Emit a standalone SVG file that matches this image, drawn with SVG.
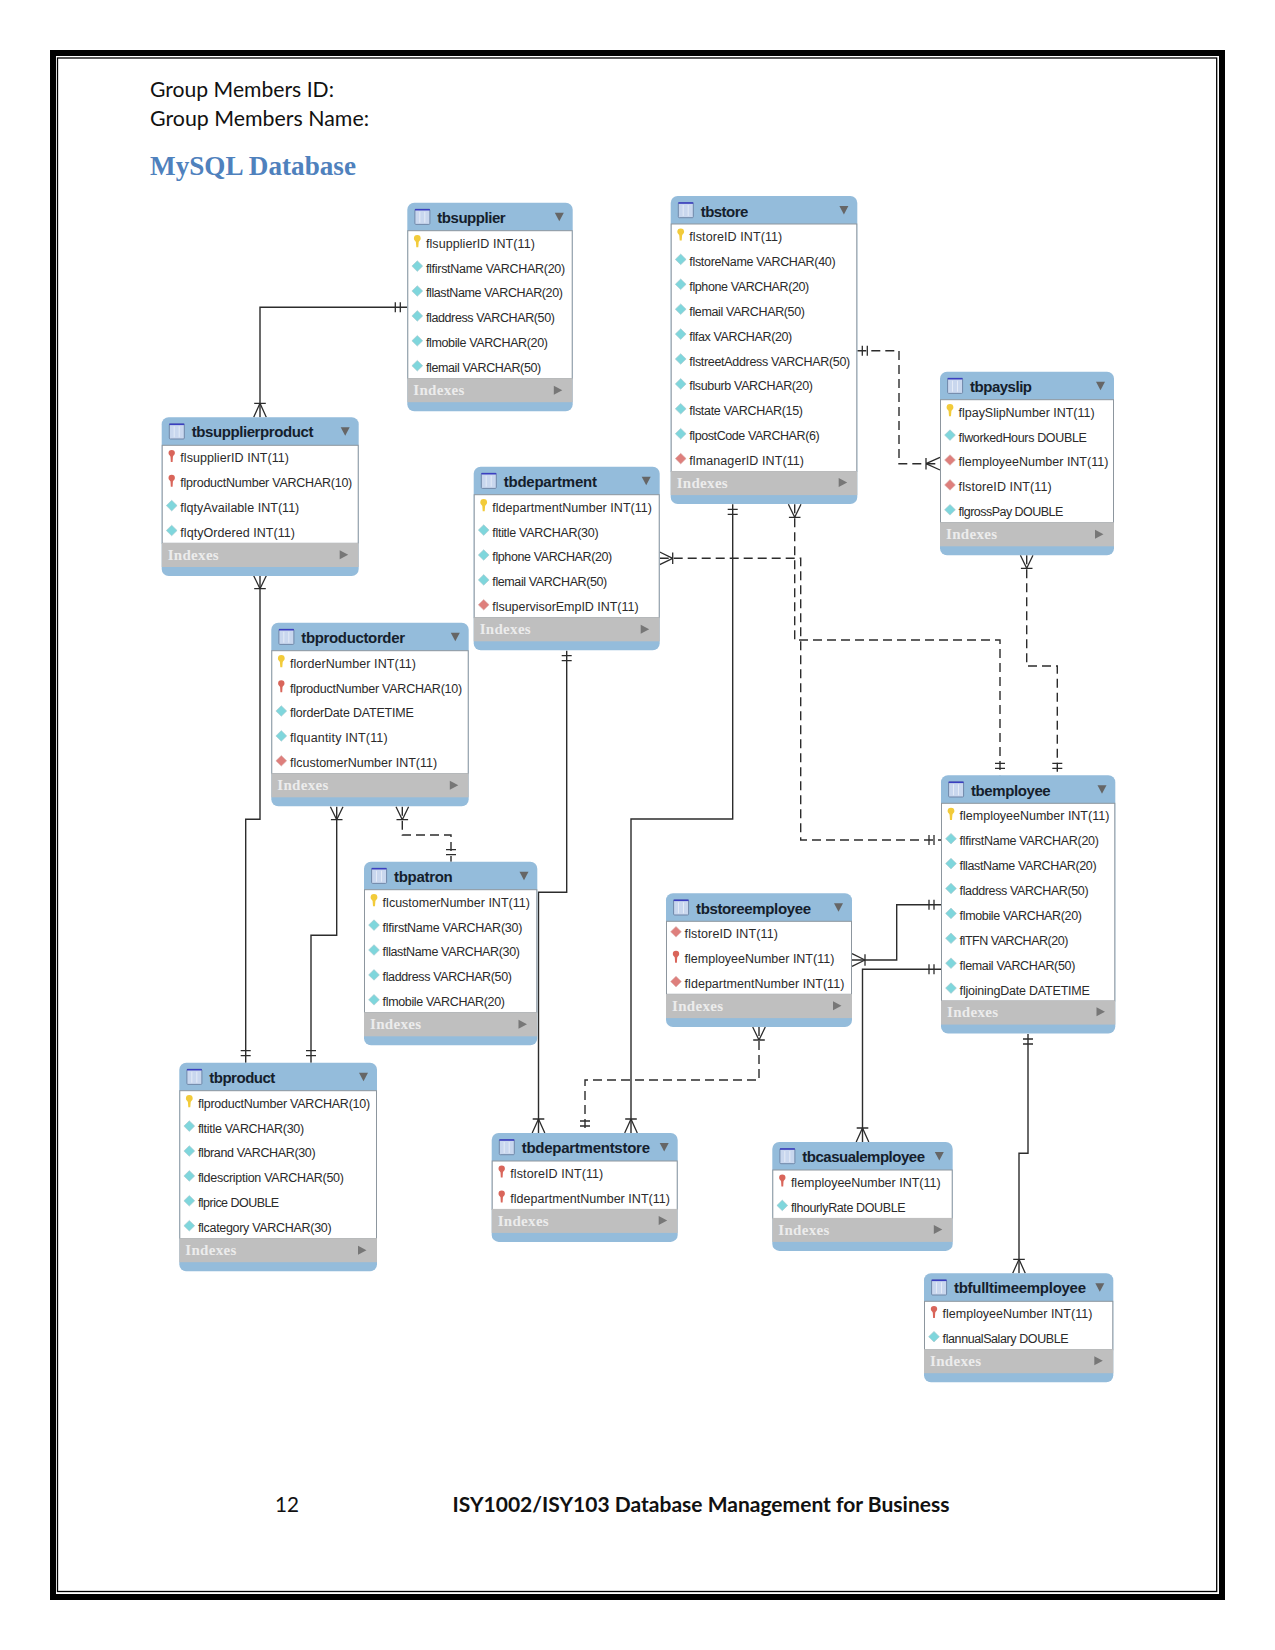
<svg xmlns="http://www.w3.org/2000/svg" width="1275" height="1650" viewBox="0 0 1275 1650">
<style>
.doc{font-family:"Lato","Liberation Sans",sans-serif;font-size:21px;fill:#111}
.h1{font-family:"Liberation Serif",serif;font-size:28px;font-weight:bold;fill:#4f81bd}
.t{font-family:"Liberation Sans",sans-serif;font-size:15px;font-weight:bold;fill:#14202c}
.r{font-family:"Liberation Sans",sans-serif;font-size:12.5px;fill:#2a2a2a;transform:translateY(.5px)}
.i{font-family:"Liberation Serif",serif;font-size:15px;font-weight:bold;fill:#ececec;transform:translateY(.5px)}
.b{fill:#94bcdb}
.w{fill:#fff;stroke:#8d969e;stroke-width:1}
.g{fill:#bfbfbf}
.c{fill:none;stroke:#2c2c2c;stroke-width:1.4}
.m1{marker-start:url(#oneB);marker-end:url(#many)}
.m2{marker-start:url(#manyB);marker-end:url(#one)}
.m3{marker-start:url(#one);marker-end:url(#many)}
.d{stroke-dasharray:9 5}
</style>
<defs>
<marker id="one" markerUnits="userSpaceOnUse" markerWidth="20" markerHeight="20" refX="19" refY="10" orient="auto-start-reverse"><path d="M7 5V15M12 5V15" fill="none" stroke="#2c2c2c" stroke-width="1.3"/></marker>
<marker id="oneB" markerUnits="userSpaceOnUse" markerWidth="20" markerHeight="20" refX="15" refY="10" orient="auto-start-reverse"><path d="M5 5V15M10 5V15" fill="none" stroke="#2c2c2c" stroke-width="1.3"/></marker>
<marker id="many" markerUnits="userSpaceOnUse" markerWidth="20" markerHeight="20" refX="16" refY="10" orient="auto-start-reverse"><path d="M2 4.2V15.8M2 10L16 3.7M2 10L16 16.3" fill="none" stroke="#2c2c2c" stroke-width="1.3"/></marker>
<marker id="manyB" markerUnits="userSpaceOnUse" markerWidth="20" markerHeight="20" refX="16" refY="10" orient="auto-start-reverse"><path d="M3 4.2V15.8M3 10L16 3.7M3 10L16 16.3" fill="none" stroke="#2c2c2c" stroke-width="1.3"/></marker>
<g id="tbl"><rect x="7.6" y="6.7" width="15" height="15" rx="1" fill="#c9d7ee" stroke="#6f87a8"/><path d="M7.6 7H22.6" stroke="#3a3fc0" stroke-width="1.6"/><path d="M12.5 9V20M17.5 9V20" stroke="#e4ebf7" stroke-width="1"/></g>
<path id="k" d="M-3.4 -4.2A3.4 3.4 0 0 1 3.4 -4.2C3.4 -2.4 1.8 -1.6 1.4 -0.6L1 4.6L-1 4.6L-1.4 -0.6C-1.8 -1.6 -3.4 -2.4 -3.4 -4.2Z" fill="#f2cb3a"/>
<path id="q" d="M-3.2 -4.2A3.2 3.2 0 0 1 3.2 -4.2C3.2 -2.4 1.6 -1.6 1.2 -0.6L.9 4.6L-.9 4.6L-1.2 -0.6C-1.6 -1.6 -3.2 -2.4 -3.2 -4.2Z" fill="#d9655a"/>
<path id="e" d="M0 -6.8L5.4 -1.5L0 3.8L-5.4 -1.5Z" fill="#7fd6dc" stroke="#a8c8cc" stroke-width=".6"/>
<path id="f" d="M0 -6.8L5.4 -1.5L0 3.8L-5.4 -1.5Z" fill="#de7f7c" stroke="#d8b0ae" stroke-width=".6"/>
<path id="dn" d="M0 0H9L4.5 8.5Z" fill="#666"/>
<path id="rt" d="M0 0L8.5 4.5L0 9Z" fill="#777"/>
</defs>
<rect width="1275" height="1650" fill="#fff"/>
<rect x="53" y="53" width="1169" height="1544" fill="none" stroke="#000" stroke-width="6"/>
<rect x="57.5" y="58" width="1159.2" height="1533.5" fill="none" stroke="#000" stroke-width="1.3"/>
<text class="doc" x="150" y="97" textLength="184" lengthAdjust="spacingAndGlyphs">Group Members ID:</text>
<text class="doc" x="150" y="125.7" textLength="219" lengthAdjust="spacingAndGlyphs">Group Members Name:</text>
<text class="h1" x="150" y="175" textLength="206" lengthAdjust="spacingAndGlyphs">MySQL Database</text>
<text class="doc" x="275" y="1512" textLength="24" lengthAdjust="spacingAndGlyphs">12</text>
<text class="doc" x="452.5" y="1512" textLength="497" lengthAdjust="spacingAndGlyphs" font-weight="bold">ISY1002/ISY103 Database Management for Business</text>

<g id="connectors">
<path class="c m3" d="M407.3 307.3H260V417.3"/>
<path class="c m2" d="M260 575.7V819.3H245.7V1062.7"/>
<path class="c m2" d="M336.7 806.7V935.3H311V1062.7"/>
<path class="c m2 d" d="M402.3 806.7V835H451V861.7"/>
<path class="c m1" d="M566.7 650.7V892.3H538.5V1133"/>
<path class="c m1" d="M732.7 504.3V819H631V1133"/>
<path class="c m2 d" d="M759 1027V1080H585V1133"/>
<path class="c m1 d" d="M857.3 350.7H899V463.7H940"/>
<path class="c m2 d" d="M1026.7 555.3V666H1057.3V775.3"/>
<path class="c m2 d" d="M794.7 504.3V640H1000V775.3"/>
<path class="c m2 d" d="M659.7 558.3H800.7V840H941"/>
<path class="c m2" d="M852 960H896.7V904.7H941"/>
<path class="c m3" d="M941 969.3H862.5V1142"/>
<path class="c m1" d="M1028 1034V1153.3H1019V1273.3"/>
</g>

<g id="tbsupplier" transform="translate(407.3 202.7)">
<rect class="b" width="165.4" height="208.5" rx="7"/><rect class="w" x=".5" y="28" width="164.4" height="148"/><rect class="g" y="175.5" width="165.4" height="24"/>
<use href="#tbl"/><text class="t" x="30" y="20.7" textLength="68.3">tbsupplier</text><use href="#dn" x="147.5" y="10"/>
<use href="#k" x="10" y="40"/><text class="r" x="18.6" y="44.5" textLength="109">flsupplierID INT(11)</text>
<use href="#e" x="10" y="64.9"/><text class="r" x="18.6" y="69.4" textLength="139.3">flfirstName VARCHAR(20)</text>
<use href="#e" x="10" y="89.8"/><text class="r" x="18.6" y="94.3" textLength="137">fllastName VARCHAR(20)</text>
<use href="#e" x="10" y="114.7"/><text class="r" x="18.6" y="119.2" textLength="129">fladdress VARCHAR(50)</text>
<use href="#e" x="10" y="139.6"/><text class="r" x="18.6" y="144.1" textLength="122">flmobile VARCHAR(20)</text>
<use href="#e" x="10" y="164.5"/><text class="r" x="18.6" y="169" textLength="115.3">flemail VARCHAR(50)</text>
<text class="i" x="6" y="192" textLength="51">Indexes</text><use href="#rt" x="146.5" y="183"/>
</g>

<g id="tbsupplierproduct" transform="translate(161.7 417.3)">
<rect class="b" width="197" height="158.7" rx="7"/><rect class="w" x=".5" y="28" width="196" height="98"/><rect class="g" y="125.7" width="197" height="24"/>
<use href="#tbl"/><text class="t" x="30" y="20.2" textLength="121.7">tbsupplierproduct</text><use href="#dn" x="179" y="10"/>
<use href="#q" x="10" y="40"/><text class="r" x="18.6" y="44.5" textLength="108.7">flsupplierID INT(11)</text>
<use href="#q" x="10" y="64.9"/><text class="r" x="18.6" y="69.4" textLength="172">flproductNumber VARCHAR(10)</text>
<use href="#e" x="10" y="89.8"/><text class="r" x="18.6" y="94.3" textLength="119">flqtyAvailable INT(11)</text>
<use href="#e" x="10" y="114.7"/><text class="r" x="18.6" y="119.2" textLength="114.7">flqtyOrdered INT(11)</text>
<text class="i" x="6" y="142" textLength="51">Indexes</text><use href="#rt" x="178" y="133"/>
</g>

<g id="tbstore" transform="translate(670.7 196)">
<rect class="b" width="186.6" height="308.1" rx="7"/><rect class="w" x=".5" y="28" width="185.6" height="247.5"/><rect class="g" y="275.1" width="186.6" height="24"/>
<use href="#tbl"/><text class="t" x="30" y="20.7" textLength="47.7">tbstore</text><use href="#dn" x="168.7" y="10"/>
<use href="#k" x="10" y="40"/><text class="r" x="18.6" y="44.5" textLength="93">flstoreID INT(11)</text>
<use href="#e" x="10" y="64.9"/><text class="r" x="18.6" y="69.4" textLength="146.3">flstoreName VARCHAR(40)</text>
<use href="#e" x="10" y="89.8"/><text class="r" x="18.6" y="94.3" textLength="120">flphone VARCHAR(20)</text>
<use href="#e" x="10" y="114.7"/><text class="r" x="18.6" y="119.2" textLength="115.7">flemail VARCHAR(50)</text>
<use href="#e" x="10" y="139.6"/><text class="r" x="18.6" y="144.1" textLength="103">flfax VARCHAR(20)</text>
<use href="#e" x="10" y="164.5"/><text class="r" x="18.6" y="169" textLength="161">flstreetAddress VARCHAR(50)</text>
<use href="#e" x="10" y="189.4"/><text class="r" x="18.6" y="193.9" textLength="123.7">flsuburb VARCHAR(20)</text>
<use href="#e" x="10" y="214.3"/><text class="r" x="18.6" y="218.8" textLength="113.7">flstate VARCHAR(15)</text>
<use href="#e" x="10" y="239.2"/><text class="r" x="18.6" y="243.7" textLength="130.3">flpostCode VARCHAR(6)</text>
<use href="#f" x="10" y="264.1"/><text class="r" x="18.6" y="268.6" textLength="114.7">flmanagerID INT(11)</text>
<text class="i" x="6" y="291" textLength="51">Indexes</text><use href="#rt" x="168" y="282"/>
</g>

<g id="tbpayslip" transform="translate(940 371.7)">
<rect class="b" width="174" height="183.6" rx="7"/><rect class="w" x=".5" y="28" width="173" height="123"/><rect class="g" y="150.6" width="174" height="24"/>
<use href="#tbl"/><text class="t" x="30" y="20.7" textLength="62">tbpayslip</text><use href="#dn" x="156" y="10"/>
<use href="#k" x="10" y="40"/><text class="r" x="18.6" y="44.5" textLength="136">flpaySlipNumber INT(11)</text>
<use href="#e" x="10" y="64.9"/><text class="r" x="18.6" y="69.4" textLength="128.3">flworkedHours DOUBLE</text>
<use href="#f" x="10" y="89.8"/><text class="r" x="18.6" y="94.3" textLength="149.7">flemployeeNumber INT(11)</text>
<use href="#f" x="10" y="114.7"/><text class="r" x="18.6" y="119.2" textLength="93">flstoreID INT(11)</text>
<use href="#e" x="10" y="139.6"/><text class="r" x="18.6" y="144.1" textLength="104.7">flgrossPay DOUBLE</text>
<text class="i" x="6" y="167" textLength="51">Indexes</text><use href="#rt" x="155" y="158"/>
</g>

<g id="tbdepartment" transform="translate(473.7 466.7)">
<rect class="b" width="186" height="183.6" rx="7"/><rect class="w" x=".5" y="28" width="185" height="123"/><rect class="g" y="150.6" width="186" height="24"/>
<use href="#tbl"/><text class="t" x="30" y="20.7" textLength="93.3">tbdepartment</text><use href="#dn" x="168" y="10"/>
<use href="#k" x="10" y="40"/><text class="r" x="18.6" y="44.5" textLength="159.7">fldepartmentNumber INT(11)</text>
<use href="#e" x="10" y="64.9"/><text class="r" x="18.6" y="69.4" textLength="106.3">fltitle VARCHAR(30)</text>
<use href="#e" x="10" y="89.8"/><text class="r" x="18.6" y="94.3" textLength="120">flphone VARCHAR(20)</text>
<use href="#e" x="10" y="114.7"/><text class="r" x="18.6" y="119.2" textLength="115">flemail VARCHAR(50)</text>
<use href="#f" x="10" y="139.6"/><text class="r" x="18.6" y="144.1" textLength="146.3">flsupervisorEmpID INT(11)</text>
<text class="i" x="6" y="167" textLength="51">Indexes</text><use href="#rt" x="167" y="158"/>
</g>

<g id="tbproductorder" transform="translate(271.3 622.7)">
<rect class="b" width="197.4" height="183.6" rx="7"/><rect class="w" x=".5" y="28" width="196.4" height="123"/><rect class="g" y="150.6" width="197.4" height="24"/>
<use href="#tbl"/><text class="t" x="30" y="20.7" textLength="103.7">tbproductorder</text><use href="#dn" x="179.5" y="10"/>
<use href="#k" x="10" y="40"/><text class="r" x="18.6" y="44.5" textLength="126">florderNumber INT(11)</text>
<use href="#q" x="10" y="64.9"/><text class="r" x="18.6" y="69.4" textLength="172.3">flproductNumber VARCHAR(10)</text>
<use href="#e" x="10" y="89.8"/><text class="r" x="18.6" y="94.3" textLength="124">florderDate DATETIME</text>
<use href="#e" x="10" y="114.7"/><text class="r" x="18.6" y="119.2" textLength="97.7">flquantity INT(11)</text>
<use href="#f" x="10" y="139.6"/><text class="r" x="18.6" y="144.1" textLength="147.3">flcustomerNumber INT(11)</text>
<text class="i" x="6" y="167" textLength="51">Indexes</text><use href="#rt" x="178.5" y="158"/>
</g>

<g id="tbpatron" transform="translate(364 861.7)">
<rect class="b" width="173.3" height="183.6" rx="7"/><rect class="w" x=".5" y="28" width="172.3" height="123"/><rect class="g" y="150.6" width="173.3" height="24"/>
<use href="#tbl"/><text class="t" x="30" y="20.7" textLength="58.7">tbpatron</text><use href="#dn" x="155.5" y="10"/>
<use href="#k" x="10" y="40"/><text class="r" x="18.6" y="44.5" textLength="147.3">flcustomerNumber INT(11)</text>
<use href="#e" x="10" y="64.9"/><text class="r" x="18.6" y="69.4" textLength="139.7">flfirstName VARCHAR(30)</text>
<use href="#e" x="10" y="89.8"/><text class="r" x="18.6" y="94.3" textLength="137.3">fllastName VARCHAR(30)</text>
<use href="#e" x="10" y="114.7"/><text class="r" x="18.6" y="119.2" textLength="129.3">fladdress VARCHAR(50)</text>
<use href="#e" x="10" y="139.6"/><text class="r" x="18.6" y="144.1" textLength="122.3">flmobile VARCHAR(20)</text>
<text class="i" x="6" y="167" textLength="51">Indexes</text><use href="#rt" x="154.5" y="158"/>
</g>

<g id="tbemployee" transform="translate(941 775.3)">
<rect class="b" width="174.3" height="258.3" rx="7"/><rect class="w" x=".5" y="28" width="173.3" height="197.7"/><rect class="g" y="225.3" width="174.3" height="24"/>
<use href="#tbl"/><text class="t" x="30" y="20.7" textLength="79.7">tbemployee</text><use href="#dn" x="156.5" y="10"/>
<use href="#k" x="10" y="40"/><text class="r" x="18.6" y="44.5" textLength="149.7">flemployeeNumber INT(11)</text>
<use href="#e" x="10" y="64.9"/><text class="r" x="18.6" y="69.4" textLength="139.3">flfirstName VARCHAR(20)</text>
<use href="#e" x="10" y="89.8"/><text class="r" x="18.6" y="94.3" textLength="137">fllastName VARCHAR(20)</text>
<use href="#e" x="10" y="114.7"/><text class="r" x="18.6" y="119.2" textLength="129">fladdress VARCHAR(50)</text>
<use href="#e" x="10" y="139.6"/><text class="r" x="18.6" y="144.1" textLength="122.3">flmobile VARCHAR(20)</text>
<use href="#e" x="10" y="164.5"/><text class="r" x="18.6" y="169" textLength="108.7">flTFN VARCHAR(20)</text>
<use href="#e" x="10" y="189.4"/><text class="r" x="18.6" y="193.9" textLength="115.7">flemail VARCHAR(50)</text>
<use href="#e" x="10" y="214.3"/><text class="r" x="18.6" y="218.8" textLength="130.3">fljoiningDate DATETIME</text>
<text class="i" x="6" y="241.5" textLength="51">Indexes</text><use href="#rt" x="155.5" y="232"/>
</g>

<g id="tbstoreemployee" transform="translate(666 893.3)">
<rect class="b" width="186" height="133.8" rx="7"/><rect class="w" x=".5" y="28" width="185" height="73"/><rect class="g" y="100.8" width="186" height="24"/>
<use href="#tbl"/><text class="t" x="30" y="20.7" textLength="115">tbstoreemployee</text><use href="#dn" x="168" y="10"/>
<use href="#f" x="10" y="40"/><text class="r" x="18.6" y="44.5" textLength="93.3">flstoreID INT(11)</text>
<use href="#q" x="10" y="64.9"/><text class="r" x="18.6" y="69.4" textLength="149.7">flemployeeNumber INT(11)</text>
<use href="#f" x="10" y="89.8"/><text class="r" x="18.6" y="94.3" textLength="159.7">fldepartmentNumber INT(11)</text>
<text class="i" x="6" y="117" textLength="51">Indexes</text><use href="#rt" x="167" y="108"/>
</g>

<g id="tbproduct" transform="translate(179.3 1062.7)">
<rect class="b" width="197.7" height="208.5" rx="7"/><rect class="w" x=".5" y="28" width="196.7" height="148"/><rect class="g" y="175.5" width="197.7" height="24"/>
<use href="#tbl"/><text class="t" x="30" y="20.7" textLength="66">tbproduct</text><use href="#dn" x="179.7" y="10"/>
<use href="#k" x="10" y="40"/><text class="r" x="18.6" y="44.5" textLength="172.3">flproductNumber VARCHAR(10)</text>
<use href="#e" x="10" y="64.9"/><text class="r" x="18.6" y="69.4" textLength="106.3">fltitle VARCHAR(30)</text>
<use href="#e" x="10" y="89.8"/><text class="r" x="18.6" y="94.3" textLength="117.7">flbrand VARCHAR(30)</text>
<use href="#e" x="10" y="114.7"/><text class="r" x="18.6" y="119.2" textLength="146">fldescription VARCHAR(50)</text>
<use href="#e" x="10" y="139.6"/><text class="r" x="18.6" y="144.1" textLength="81.3">flprice DOUBLE</text>
<use href="#e" x="10" y="164.5"/><text class="r" x="18.6" y="169" textLength="133.7">flcategory VARCHAR(30)</text>
<text class="i" x="6" y="192" textLength="51">Indexes</text><use href="#rt" x="178.7" y="183"/>
</g>

<g id="tbdepartmentstore" transform="translate(491.7 1133)">
<rect class="b" width="186" height="108.9" rx="7"/><rect class="w" x=".5" y="28" width="185" height="48.5"/><rect class="g" y="75.9" width="186" height="24"/>
<use href="#tbl"/><text class="t" x="30" y="20.2" textLength="128.3">tbdepartmentstore</text><use href="#dn" x="168" y="10"/>
<use href="#q" x="10" y="40"/><text class="r" x="18.6" y="44.5" textLength="93">flstoreID INT(11)</text>
<use href="#q" x="10" y="64.9"/><text class="r" x="18.6" y="69.4" textLength="159.7">fldepartmentNumber INT(11)</text>
<text class="i" x="6" y="92" textLength="51">Indexes</text><use href="#rt" x="167" y="83"/>
</g>

<g id="tbcasualemployee" transform="translate(772.3 1142)">
<rect class="b" width="180.4" height="108.9" rx="7"/><rect class="w" x=".5" y="28" width="179.4" height="48.5"/><rect class="g" y="75.9" width="180.4" height="24"/>
<use href="#tbl"/><text class="t" x="30" y="20.2" textLength="122.7">tbcasualemployee</text><use href="#dn" x="162.5" y="10"/>
<use href="#q" x="10" y="40"/><text class="r" x="18.6" y="44.5" textLength="149.7">flemployeeNumber INT(11)</text>
<use href="#e" x="10" y="64.9"/><text class="r" x="18.6" y="69.4" textLength="114.7">flhourlyRate DOUBLE</text>
<text class="i" x="6" y="92" textLength="51">Indexes</text><use href="#rt" x="161.5" y="83"/>
</g>

<g id="tbfulltimeemployee" transform="translate(924 1273.3)">
<rect class="b" width="189.3" height="108.9" rx="7"/><rect class="w" x=".5" y="28" width="188.3" height="48.5"/><rect class="g" y="75.9" width="189.3" height="24"/>
<use href="#tbl"/><text class="t" x="30" y="20.2" textLength="132">tbfulltimeemployee</text><use href="#dn" x="171.3" y="10"/>
<use href="#q" x="10" y="40"/><text class="r" x="18.6" y="44.5" textLength="149.7">flemployeeNumber INT(11)</text>
<use href="#e" x="10" y="64.9"/><text class="r" x="18.6" y="69.4" textLength="126">flannualSalary DOUBLE</text>
<text class="i" x="6" y="92" textLength="51">Indexes</text><use href="#rt" x="170.3" y="83"/>
</g>
</svg>
